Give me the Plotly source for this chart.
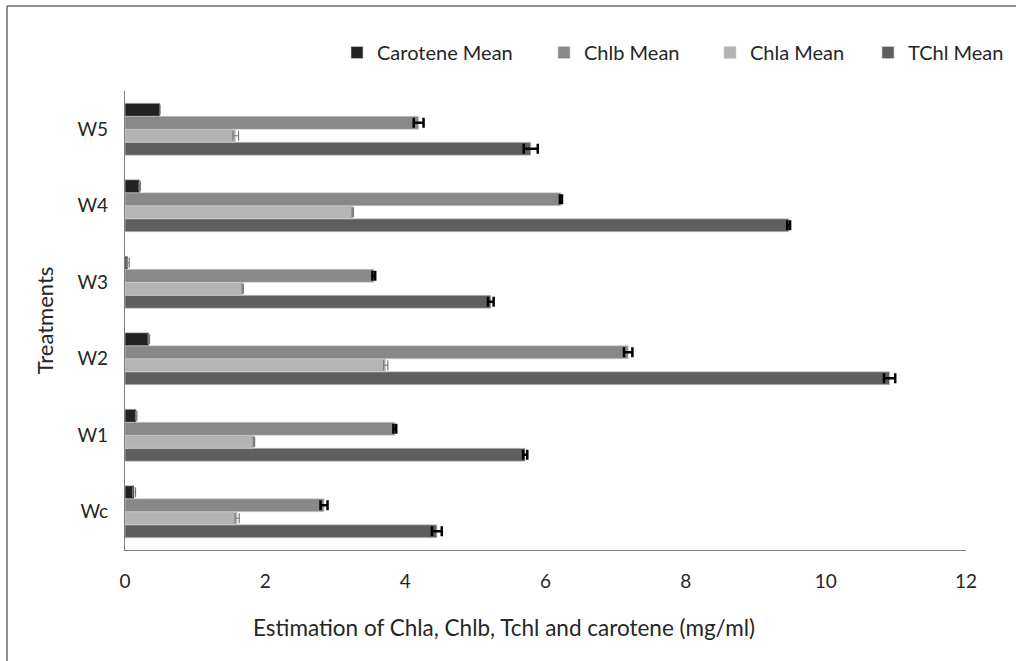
import plotly.graph_objects as go

# Treatments (bottom to top on the category axis)
treatments = ["Wc", "W1", "W2", "W3", "W4", "W5"]

# Pigment means (mg/ml)
carotene_mean = [0.13, 0.16, 0.34, 0.04, 0.21, 0.50]
chlb_mean = [2.84, 3.85, 7.18, 3.55, 6.22, 4.19]
chla_mean = [1.60, 1.84, 3.72, 1.68, 3.25, 1.58]
tchl_mean = [4.45, 5.71, 10.91, 5.22, 9.47, 5.79]

# Standard errors
carotene_err = [0.02, 0.01, 0.01, 0.02, 0.01, 0.0]
chlb_err = [0.05, 0.02, 0.06, 0.02, 0.015, 0.07]
chla_err = [0.03, 0.01, 0.03, 0.01, 0.01, 0.04]
tchl_err = [0.07, 0.03, 0.08, 0.04, 0.02, 0.10]

x_ticks = [0, 2, 4, 6, 8, 10, 12]

FONT = "Lato, 'Open Sans', sans-serif"
TEXT = "#262626"

# plot area in pixels: left 125, right 966, top 91, bottom 550
PL, PR, PT, PB = 125, 966, 91, 550


def px_x(p):
    return (p - PL) / (PR - PL)


def px_y(p):
    return (PB - p) / (PB - PT)


# (name, values, errors, fill, error colour, error thickness, legend id, legend left px)
series = [
    ("TChl Mean", tchl_mean, tchl_err, "#5e5e5e", "#000000", 2.5, "legend4", 868),
    ("Chla Mean", chla_mean, chla_err, "#b4b4b4", "#7a7a7a", 1.2, "legend3", 710),
    ("Chlb Mean", chlb_mean, chlb_err, "#888888", "#000000", 2.5, "legend2", 544),
    ("Carotene Mean", carotene_mean, carotene_err, "#222222", "#7a7a7a", 1.2, "legend", 337),
]

fig = go.Figure()
legends = {}
for name, vals, errs, fill, ecol, eth, lg, lpx in series:
    fig.add_trace(go.Bar(
        y=treatments, x=vals, name=name, orientation="h",
        marker=dict(color=fill, line=dict(color="#d0d0d0", width=0.6)),
        error_x=dict(type="data", array=errs, visible=True,
                     color=ecol, thickness=eth, width=5),
        legend=lg,
    ))
    legends[lg] = dict(
        x=px_x(lpx), y=1 - 33 / 661, xref="paper", yref="container",
        xanchor="left", yanchor="top",
        orientation="h", bgcolor="rgba(0,0,0,0)",
        font=dict(family=FONT, size=20, color=TEXT),
        itemwidth=30, tracegroupgap=0,
    )

fig.update_layout(
    width=1016, height=661,
    margin=dict(l=PL, r=1016 - PR, t=PT, b=661 - PB),
    paper_bgcolor="white", plot_bgcolor="white",
    barmode="group", bargap=0.32, bargroupgap=0,
    font=dict(family=FONT, size=17, color=TEXT),
    showlegend=True,
    **legends,
    xaxis=dict(
        range=[0, 12], tickvals=x_ticks, ticktext=[str(t) for t in x_ticks],
        showgrid=False, zeroline=False, showline=True, linecolor="#7f7f7f", linewidth=1.2,
        ticks="", ticklabelstandoff=14,
        tickfont=dict(family=FONT, size=19, color=TEXT),
    ),
    yaxis=dict(
        categoryorder="array", categoryarray=treatments,
        showgrid=False, zeroline=False, showline=True, linecolor="#7f7f7f", linewidth=1.2,
        ticks="", ticklabelstandoff=12,
        tickfont=dict(family=FONT, size=19, color=TEXT),
        title=dict(text="Treatments", font=dict(family=FONT, size=22, color=TEXT), standoff=17),
    ),
    annotations=[
        dict(text="Estimation of Chla, Chlb, Tchl and carotene (mg/ml)",
             xref="paper", yref="paper", x=px_x(504), y=px_y(627),
             xanchor="center", yanchor="middle", showarrow=False,
             font=dict(family=FONT, size=22.5, color=TEXT)),
    ],
    shapes=[
        # outer frame (top and left edges)
        dict(type="line", xref="paper", yref="paper",
             x0=px_x(7), x1=1.2, y0=px_y(6), y1=px_y(6),
             line=dict(color="#6a6a6a", width=1.5)),
        dict(type="line", xref="paper", yref="paper",
             x0=px_x(7), x1=px_x(7), y0=px_y(6), y1=-0.4,
             line=dict(color="#6a6a6a", width=1.5)),
    ],
)

fig.write_html("out.html")
